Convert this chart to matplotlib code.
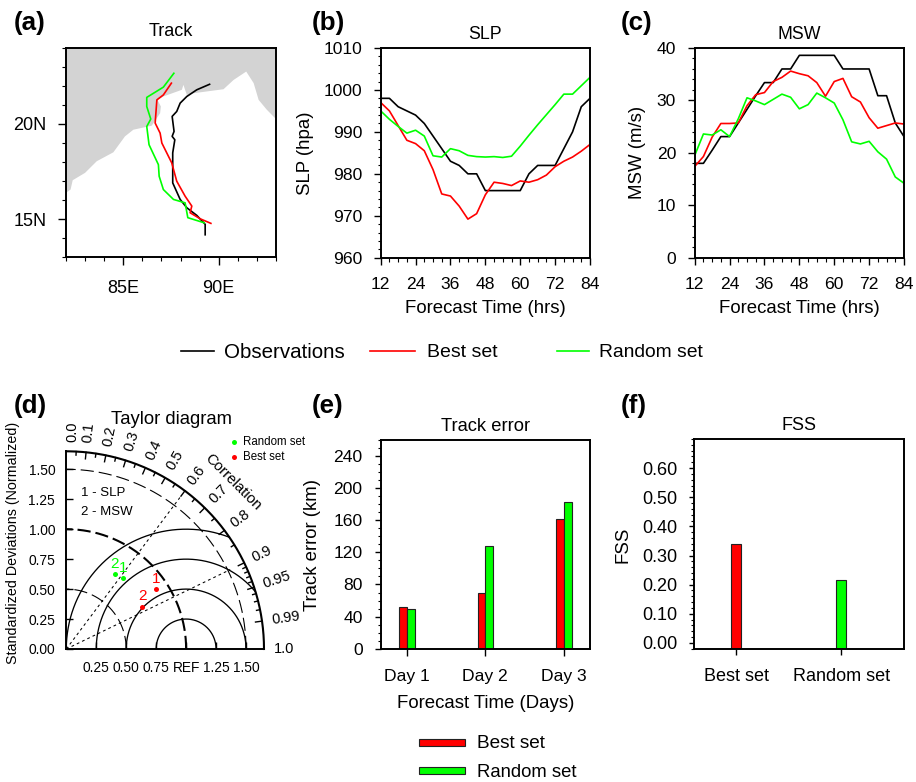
import numpy as np
import matplotlib
matplotlib.use('Agg')
import matplotlib.pyplot as plt
from matplotlib.lines import Line2D
from matplotlib.patches import Rectangle
from matplotlib.ticker import MultipleLocator

plt.rcParams['font.family'] = ['Liberation Sans', 'DejaVu Sans']
plt.rcParams['lines.scale_dashes'] = False
plt.rcParams['axes.linewidth'] = 1.4

W, H = 916, 782
BLACK, RED, GREEN = '#000000', '#ff0000', '#00ff00'

# panel a - tracks and coast (lon, lat)
obs_lon = [89.29, 89.29, 88.85, 88.33, 87.98, 87.59, 87.59, 87.70, 87.56, 87.66, 87.56, 87.80, 87.98, 88.33, 88.85, 89.52]
obs_lat = [14.17, 14.72, 15.19, 15.59, 16.03, 16.90, 18.48, 19.17, 19.35, 19.61, 20.40, 20.66, 21.10, 21.45, 21.80, 22.09]
best_lon = [89.59, 89.03, 88.50, 88.59, 88.24, 87.80, 87.54, 87.02, 86.93, 86.67, 86.76, 87.10, 87.52]
best_lat = [14.77, 15.01, 15.33, 15.68, 16.20, 16.99, 17.95, 19.00, 19.52, 20.05, 21.27, 21.53, 22.15]
rand_lon = [89.24, 88.38, 88.24, 87.63, 87.10, 86.88, 86.84, 86.35, 86.23, 86.44, 86.23, 86.23, 87.10, 87.65]
rand_lat = [14.80, 15.07, 15.85, 16.03, 16.55, 17.25, 17.86, 18.91, 19.87, 20.26, 20.92, 21.40, 21.94, 22.67]
coast_lon = [82.0, 82.24, 82.35, 83.0, 83.61, 84.48, 85.09, 85.53, 86.49, 86.93, 86.97, 86.79, 87.10, 88.07, 88.15,
             88.33, 88.68, 90.25, 90.78, 91.44, 91.83, 92.09, 92.52, 93.0, 93.0, 82.0]
coast_lat = [16.38, 16.55, 17.04, 17.43, 18.04, 18.51, 19.35, 19.70, 19.91, 20.57, 20.92, 21.27, 21.45, 21.80, 22.06,
             21.53, 21.62, 21.83, 22.32, 22.76, 22.15, 21.27, 20.75, 20.26, 24.0, 24.0]

# panels b, c - time series
hours = list(range(12, 85, 3))
slp_obs = [998, 998, 996, 995, 994, 992, 989, 986, 983, 982, 980, 980, 976, 976, 976, 976, 976, 980, 982, 982, 982, 986, 990, 996, 998]
slp_best = [997, 995, 991.5, 988, 987.2, 985.5, 981, 975.2, 974.7, 972.3, 969.2, 970.5, 975, 978, 977.7, 977.2, 978.3, 978, 978.6, 979.7, 981.7, 983, 984, 985.4, 987]
slp_rand = [995, 993, 991.3, 989.7, 990.4, 989, 984.3, 984, 986, 985.5, 984.4, 984.1, 984, 984.1, 983.9, 984.2, 986.6, 989.2, 991.7, 994.1, 996.5, 999, 999, 1001, 1003]
msw_obs = [18, 18, 20.5, 23.1, 23.1, 25.7, 28.3, 30.9, 33.4, 33.4, 36, 36, 38.6, 38.6, 38.6, 38.6, 38.6, 36, 36, 36, 36, 30.9, 30.9, 25.7, 23.1]
msw_best = [17.4, 19.3, 23, 25.6, 25.6, 25.7, 29, 31.1, 31.5, 33.6, 34.4, 35.6, 35.1, 34.7, 33.4, 30.8, 33.6, 34.2, 30.7, 29.7, 26.7, 24.7, 25.2, 25.7, 25.5]
msw_rand = [19.5, 23.6, 23.4, 24.4, 23.1, 26.5, 30.5, 29.9, 29.2, 30.2, 31.2, 30.6, 28.4, 29.2, 31.4, 30.5, 29.5, 26.3, 22.1, 21.7, 22.2, 20.2, 18.8, 15.4, 14.2]

# panel d - taylor points, normalized std dev and correlation
best_std = [0.899, 0.724]
best_cor = [0.832, 0.873]
rand_std = [0.756, 0.742]
rand_cor = [0.626, 0.543]
point_names = ['1', '2']
cor_labels = [0.0, 0.1, 0.2, 0.3, 0.4, 0.5, 0.6, 0.7, 0.8, 0.9, 0.95, 0.99, 1.0]

# panels e, f - bars
days = ['Day 1', 'Day 2', 'Day 3']
err_best = [52, 69, 161]
err_rand = [50, 128, 183]
fss_names = ['Best set', 'Random set']
fss_vals = [0.34, 0.2165]


def rect(l, t, r, b):
    return [l / W, 1 - b / H, (r - l) / W, (b - t) / H]


def fx(x):
    return x / W


def fy(y):
    return 1 - y / H


def style(ax, major=7, minor=3.5):
    ax.tick_params(which='major', length=major * 0.72, width=1.0, labelsize=12.6, pad=8.4)
    ax.tick_params(which='minor', length=minor * 0.72, width=0.8)
    ax.tick_params(top=False, right=False, which='both')


fig = plt.figure(figsize=(W / 100, H / 100), dpi=100)

# (a)
ax = fig.add_axes(rect(66, 48, 276, 257))
ax.fill(coast_lon, coast_lat, color='#d3d3d3', lw=0)
ax.plot(obs_lon, obs_lat, color=BLACK, lw=1.2)
ax.plot(best_lon, best_lat, color=RED, lw=1.2)
ax.plot(rand_lon, rand_lat, color=GREEN, lw=1.2)
ax.set_xlim(82, 93)
ax.set_ylim(13, 24)
ax.set_xticks([85, 90], ['85E', '90E'])
ax.set_yticks([15, 20], ['15N', '20N'])
ax.xaxis.set_minor_locator(MultipleLocator(1))
ax.yaxis.set_minor_locator(MultipleLocator(1))
style(ax, 8, 4)
ax.tick_params(axis='both', which='major', labelsize=13)
ax.tick_params(axis='x', which='major', pad=10.5)
ax.set_title('Track', fontsize=13, pad=9)

# (b), (c)
series = [
    ((380.7, 590), 'SLP', 'SLP (hpa)', (slp_obs, slp_best, slp_rand), (960, 1010), 305),
    ((694.7, 904), 'MSW', 'MSW (m/s)', (msw_obs, msw_best, msw_rand), (0, 40), 637.5),
]
for (left, right), title, ylab, vals, ylim, ylab_x in series:
    ax = fig.add_axes(rect(left, 48, right, 257.7))
    for v, c in zip(vals, (BLACK, RED, GREEN)):
        ax.plot(hours, v, color=c, lw=1.2)
    ax.set_xlim(12, 84)
    ax.set_ylim(*ylim)
    ax.set_xticks(range(12, 85, 12))
    ax.set_yticks(range(ylim[0], ylim[1] + 1, 10))
    ax.xaxis.set_minor_locator(MultipleLocator(3))
    ax.yaxis.set_minor_locator(MultipleLocator(2))
    style(ax)
    ax.tick_params(axis='x', which='major', pad=9)
    ax.set_title(title, fontsize=12.8, pad=6.5)
    ax.set_xlabel('Forecast Time (hrs)', fontsize=13.4, va='center')
    ax.xaxis.set_label_coords(0.5, -(309 - 257.7) / 209.7)
    ax.set_ylabel(ylab, fontsize=13.4, va='center')
    ax.yaxis.set_label_coords(-(left - ylab_x) / (right - left), 0.5)

# top legend
top_legend = [(180.5, 213.8, 224.3, 'Observations', BLACK, 14.8), (370, 415.4, 426.6, 'Best set', RED, 14),
              (556.7, 589, 599, 'Random set', GREEN, 13.9)]
for x0, x1, xt, name, c, size in top_legend:
    fig.add_artist(Line2D([fx(x0), fx(x1)], [fy(351), fy(351)], color=c, lw=1.2))
    fig.text(fx(xt), fy(353), name, fontsize=size, va='center')

# (d) taylor diagram
ax = fig.add_axes(rect(66.3, 451.3, 264, 649))
rmax = 1.65
ax.set_xlim(0, rmax)
ax.set_ylim(0, rmax)
ax.spines['top'].set_visible(False)
ax.spines['right'].set_visible(False)
ax.set_xticks([0.25, 0.5, 0.75, 1.0, 1.25, 1.5], ['0.25', '0.50', '0.75', 'REF', '1.25', '1.50'])
ax.set_yticks([0, 0.25, 0.5, 0.75, 1.0, 1.25, 1.5], ['0.00', '0.25', '0.50', '0.75', '1.00', '1.25', '1.50'])
ax.tick_params(direction='in', length=5, width=1.0, labelsize=9.9, top=False, right=False)
ax.tick_params(axis='x', pad=9)
ax.tick_params(axis='y', pad=8)

t = np.linspace(0, np.pi / 2, 400)
ax.plot(rmax * np.cos(t), rmax * np.sin(t), color='k', lw=1.5, clip_on=False)
for r, lw in [(0.5, 0.8), (1.0, 1.5), (1.5, 0.8)]:
    ax.plot(r * np.cos(t), r * np.sin(t), color='k', lw=lw, dashes=(9.5, 3.6), clip_on=False)

# rms arcs around REF
t2 = np.linspace(0, np.pi, 500)
for r in [0.25, 0.5, 0.75, 1.0]:
    x = 1 + r * np.cos(t2)
    y = r * np.sin(t2)
    keep = x ** 2 + y ** 2 <= rmax ** 2
    ax.plot(x[keep], y[keep], color='k', lw=0.95)

# correlation lines
for c, r in [(0.6, 1.58), (0.9, 1.52)]:
    s = np.sqrt(1 - c ** 2)
    ax.plot([0, r * c], [0, r * s], color='k', lw=0.75, dashes=(2, 2.2))

# correlation ticks
major_cor = [0.1, 0.2, 0.3, 0.4, 0.5, 0.6, 0.7, 0.8, 0.9, 0.95, 0.99]
minor_cor = [0.05, 0.15, 0.25, 0.35, 0.45, 0.55, 0.65, 0.75, 0.85, 0.91, 0.92, 0.93, 0.94, 0.96, 0.97, 0.98]
for cors, tick in [(major_cor, 0.055), (minor_cor, 0.03)]:
    for c in cors:
        s = np.sqrt(1 - c ** 2)
        ax.plot([(rmax - tick) * c, rmax * c], [(rmax - tick) * s, rmax * s], color='k', lw=1.0, clip_on=False)

for c in cor_labels:
    ang = np.degrees(np.arccos(c))
    pos = np.radians(min(ang, 88.4))
    ax.text(1.73 * np.cos(pos), 1.73 * np.sin(pos), str(c), rotation=ang, rotation_mode='anchor',
            ha='left', va='center', fontsize=10.5)
ax.text(1.394, 1.39, 'Correlation', rotation=-45, rotation_mode='anchor', ha='center', va='center', fontsize=10.8)

for std, cor, c in [(best_std, best_cor, RED), (rand_std, rand_cor, GREEN)]:
    std = np.array(std)
    cor = np.array(cor)
    px = std * cor
    py = std * np.sqrt(1 - cor ** 2)
    ax.plot(px, py, 'o', color=c, ms=3.6, mew=0, zorder=5)
    for name, a, b in zip(point_names, px, py):
        ax.annotate(name, (a, b), xytext=(0, 7.6), textcoords='offset points', color=c,
                    ha='center', va='center', fontsize=11)

ax.set_ylabel('Standardized Deviations (Normalized)', fontsize=10.3, va='center')
ax.yaxis.set_label_coords(-(66.3 - 13) / 197.7, (649 - 543) / 197.7)
fig.text(fx(171.7), fy(424.3), 'Taylor diagram', fontsize=13.3, ha='center', va='baseline')
fig.text(fx(81), fy(493), '1 - SLP', fontsize=9.5, va='center')
fig.text(fx(81), fy(511.7), '2 - MSW', fontsize=9.5, va='center')
for y, name, c in [(442.3, 'Random set', GREEN), (457.3, 'Best set', RED)]:
    fig.add_artist(Line2D([fx(234.3)], [fy(y)], marker='o', color=c, ms=3.6, mew=0, ls=''))
    fig.text(fx(243.3), fy(y), name, fontsize=8.3, va='center')

# (e)
ax = fig.add_axes(rect(380.7, 440, 590, 648.7))
x_pos = np.arange(1, 4)
ax.bar(x_pos - 0.05, err_best, 0.1, color=RED, edgecolor='#222222', lw=0.8)
ax.bar(x_pos + 0.05, err_rand, 0.1, color=GREEN, edgecolor='#222222', lw=0.8)
ax.set_xlim(2 / 3, 10 / 3)
ax.set_ylim(0, 260)
ax.set_xticks(x_pos, days)
ax.set_yticks(range(0, 241, 40))
ax.yaxis.set_minor_locator(MultipleLocator(10))
style(ax, 6.5, 3.5)
ax.tick_params(axis='x', which='major', pad=9.7)
ax.set_title('Track error', fontsize=13.2, pad=6.7)
ax.set_xlabel('Forecast Time (Days)', fontsize=13.4, va='center')
ax.xaxis.set_label_coords(0.5, -(704 - 648.7) / 208.7)
ax.set_ylabel('Track error (km)', fontsize=13.4, va='center')
ax.yaxis.set_label_coords(-(380.7 - 312.5) / 209.3, (648.7 - 544.7) / 208.7)

# bottom legend
for y0, y1, name, c, size in [(739, 746, 'Best set', RED, 13.7), (767.3, 774, 'Random set', GREEN, 13.3)]:
    fig.add_artist(Rectangle((fx(419), fy(y1)), 46 / W, (y1 - y0) / H, transform=fig.transFigure,
                             facecolor=c, edgecolor='#222222', lw=0.8))
    fig.text(fx(477), fy((y0 + y1) / 2 + 1.5), name, fontsize=size, va='center')

# (f)
ax = fig.add_axes(rect(694.3, 439, 904, 648.7))
ax.bar([1, 2], np.array(fss_vals) + 0.02, 0.1, bottom=-0.02, color=[RED, GREEN], edgecolor='#222222', lw=0.8)
ax.set_xlim(0.6, 2.6)
ax.set_ylim(-0.02, 0.7)
ax.set_xticks([1, 2], fss_names)
ax.set_yticks(np.arange(0, 0.61, 0.1), ['0.00', '0.10', '0.20', '0.30', '0.40', '0.50', '0.60'])
ax.yaxis.set_minor_locator(MultipleLocator(0.02))
style(ax, 5.5, 3)
ax.tick_params(axis='both', which='major', labelsize=13)
ax.tick_params(axis='x', which='major', pad=9.7)
ax.set_title('FSS', fontsize=13, pad=6.5)
ax.set_ylabel('FSS', fontsize=13.4, va='center')
ax.yaxis.set_label_coords(-(694.3 - 622.7) / 209.7, (648.7 - 545) / 209.7)

# panel letters
for x, y, s in [(14, 30, '(a)'), (311.7, 30, '(b)'), (621, 30, '(c)'),
                (14, 413, '(d)'), (311.7, 413, '(e)'), (620.7, 413, '(f)')]:
    fig.text(fx(x), fy(y), s, fontsize=18.7, fontweight='bold', va='baseline')

fig.savefig('out.png', dpi=100)
